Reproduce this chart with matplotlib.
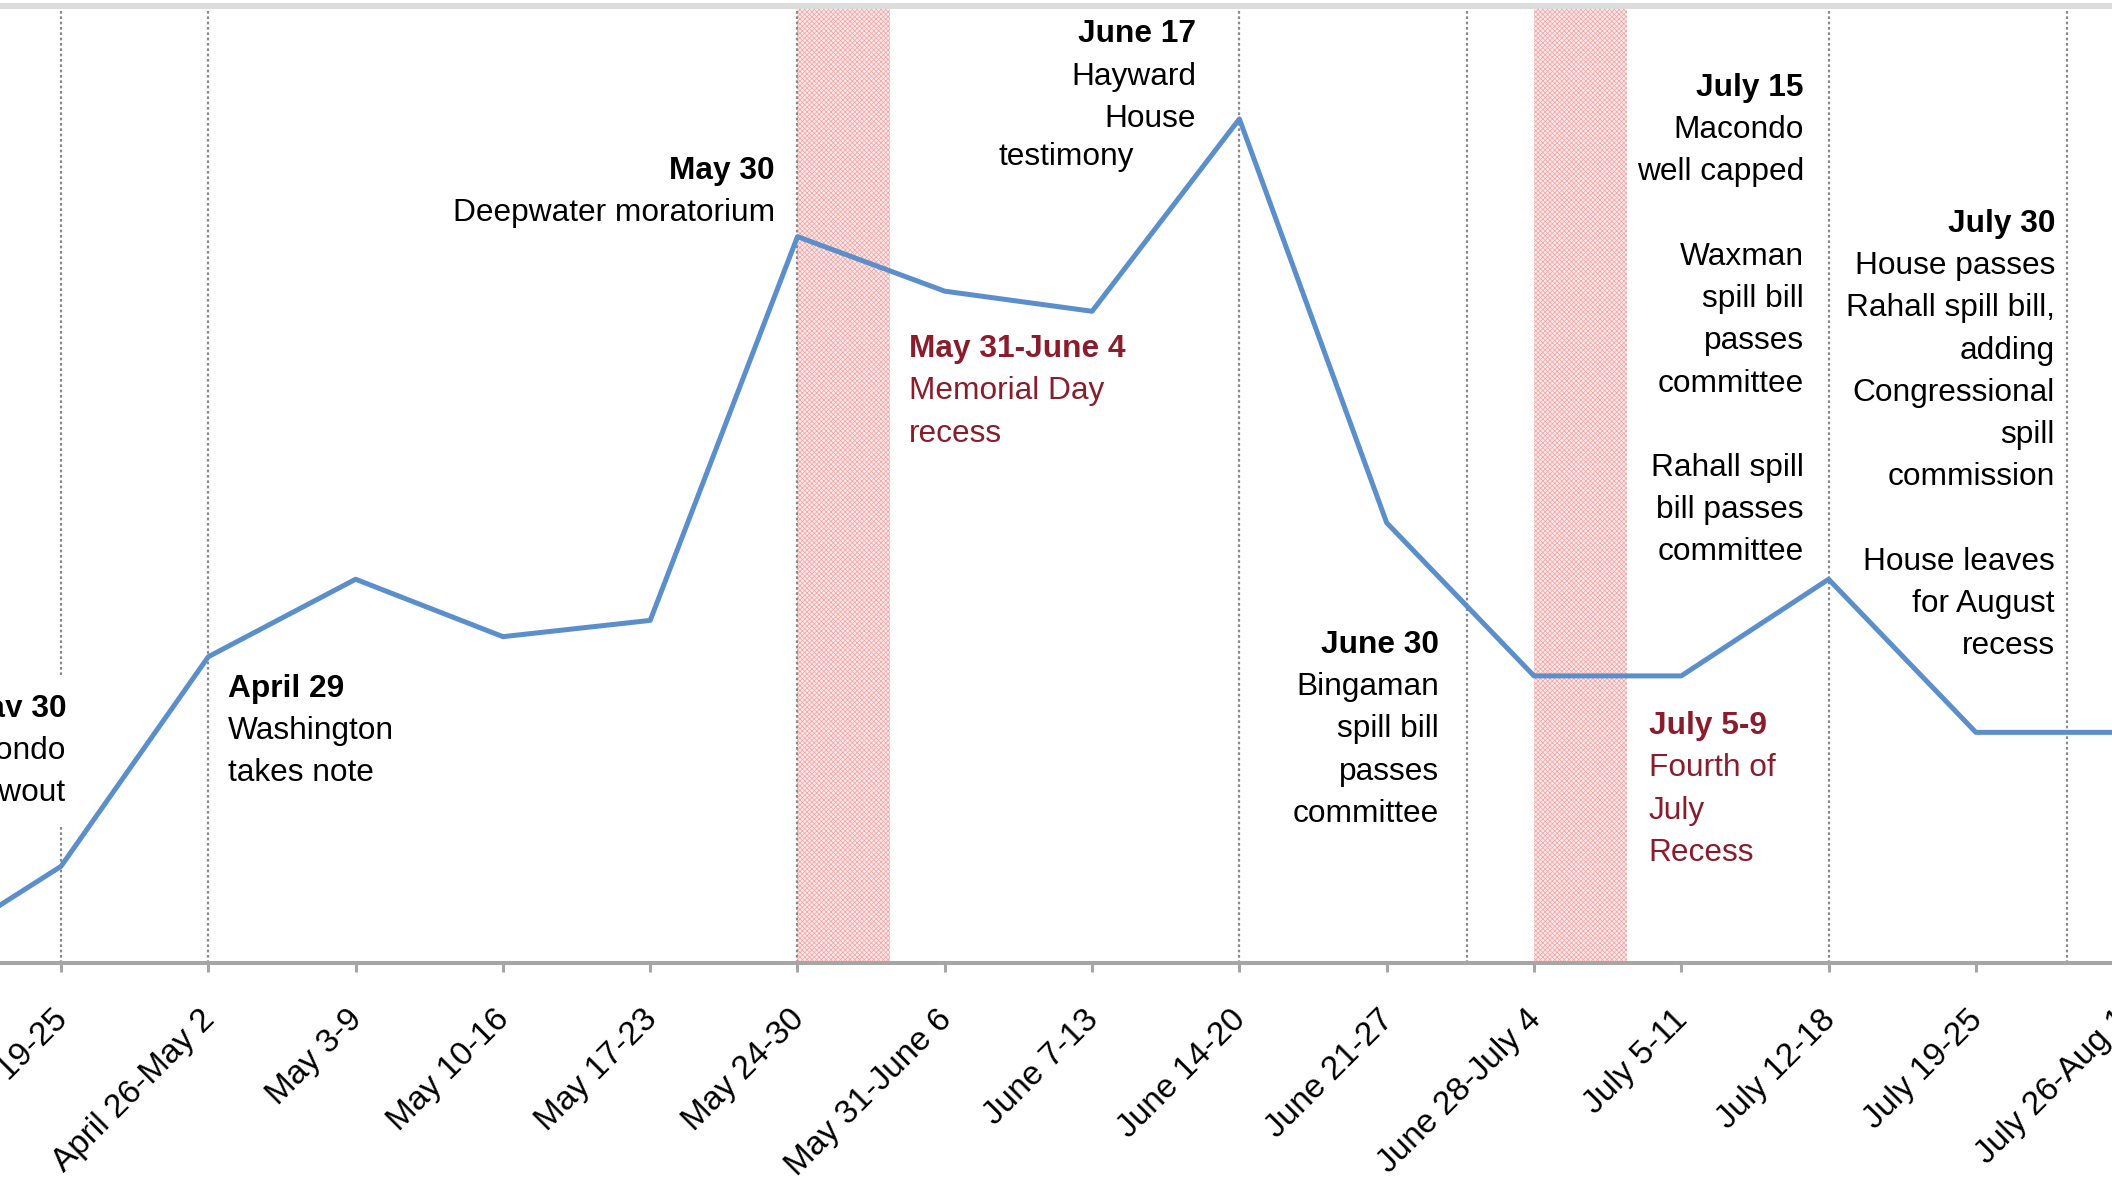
import numpy as np
import matplotlib.pyplot as plt
from matplotlib.transforms import ScaledTranslation

plt.rcParams['font.family'] = ['Liberation Sans', 'DejaVu Sans']
plt.rcParams['hatch.linewidth'] = 0.5

# weekly attention index (0 = baseline, 100 = top of panel)
weeks = ["April 12-18", "April 19-25", "April 26-May 2", "May 3-9", "May 10-16",
         "May 17-23", "May 24-30", "May 31-June 6", "June 7-13", "June 14-20",
         "June 21-27", "June 28-July 4", "July 5-11", "July 12-18", "July 19-25",
         "July 26-Aug 1"]
attention = [0.3, 10.1, 32.0, 40.1, 34.1, 35.8, 75.9, 70.2, 68.1, 88.2,
             46.0, 30.0, 30.0, 40.1, 24.1, 24.1]

# event marker lines and congressional recesses (in week units)
event_x = [1, 2, 6, 9, 10.545, 13, 14.618]
recesses = [(6, 6.63), (11, 11.63)]

BLUE = '#5b8fcb'
RED = '#8b1c2b'
FS = 22.8
STEP = 30.4  # line step in points

fig = plt.figure(figsize=(21.12, 11.83), dpi=100)
ax = fig.add_axes([-0.07573, 0.18597, 1.13682, 0.80896])
pos = np.arange(len(weeks))

for a, b in recesses:
    ax.axvspan(a, b, facecolor='#ffeaea', edgecolor='#f4a0a0', hatch='xxxxxxx',
               linewidth=0, zorder=1)

for x in event_x:
    ax.axvline(x, color='#8a8a8a', lw=1.6, linestyle=(0, (1.2, 1.2)), zorder=2)

ax.plot(pos, attention, color=BLUE, lw=3.6, solid_joinstyle='round', zorder=5)


def note(x, y, lines, ha='right', color='black', box=False, title=True):
    for i, txt in enumerate(lines):
        if txt == '':
            continue
        kw = {}
        if box:
            kw['bbox'] = dict(boxstyle='square,pad=0.6', fc='white', ec='none')
        ax.annotate(txt, xy=(x, y), xytext=(0, -i * STEP), textcoords='offset points',
                    ha=ha, va='baseline', fontsize=FS, color=color,
                    fontweight='bold' if (i == 0 and title) else 'normal',
                    zorder=3, **kw)


note(1.034, 25.7, ["May 30", "Macondo", "blowout"], box=True)
note(2.134, 27.8, ["April 29", "Washington", "takes note"], ha='left')
note(5.847, 81.9, ["May 30", "Deepwater moratorium"])
note(8.705, 96.2, ["June 17", "Hayward", "House"])
note(8.284, 83.4, ["testimony"], title=False)
note(6.754, 63.3, ["May 31-June 4", "Memorial Day", "recess"], ha='left', color=RED)
note(10.355, 32.4, ["June 30", "Bingaman", "spill bill", "passes", "committee"])
note(11.779, 23.9, ["July 5-9", "Fourth of", "July", "Recess"], ha='left', color=RED)
note(12.833, 90.6, ["July 15", "Macondo", "well capped", "", "Waxman", "spill bill",
                    "passes", "committee", "", "Rahall spill", "bill passes", "committee"])
note(14.537, 76.4, ["July 30", "House passes", "Rahall spill bill,", "adding",
                    "Congressional", "spill", "commission", "", "House leaves",
                    "for August", "recess"])

ax.set_xlim(-0.5, 15.8)
ax.set_ylim(0, 100)
ax.set_xticks(pos, weeks, rotation=45, ha='right', va='top', rotation_mode='anchor',
              fontsize=24)
ax.set_yticks([])
ax.tick_params(axis='x', length=6.5, width=2.2, color='#a6a6a6', pad=23)
# nudge rotated labels so their ends sit on the ticks
shift = ScaledTranslation(-9 / 100, 0, fig.dpi_scale_trans)
for lab in ax.get_xticklabels():
    lab.set_transform(lab.get_transform() + shift)
for s in ['left', 'right']:
    ax.spines[s].set_visible(False)
ax.spines['bottom'].set_color('#a6a6a6')
ax.spines['bottom'].set_linewidth(2.9)
ax.spines['top'].set_color('#dcdcdc')
ax.spines['top'].set_linewidth(4.3)

fig.savefig('out.png', dpi=100)
